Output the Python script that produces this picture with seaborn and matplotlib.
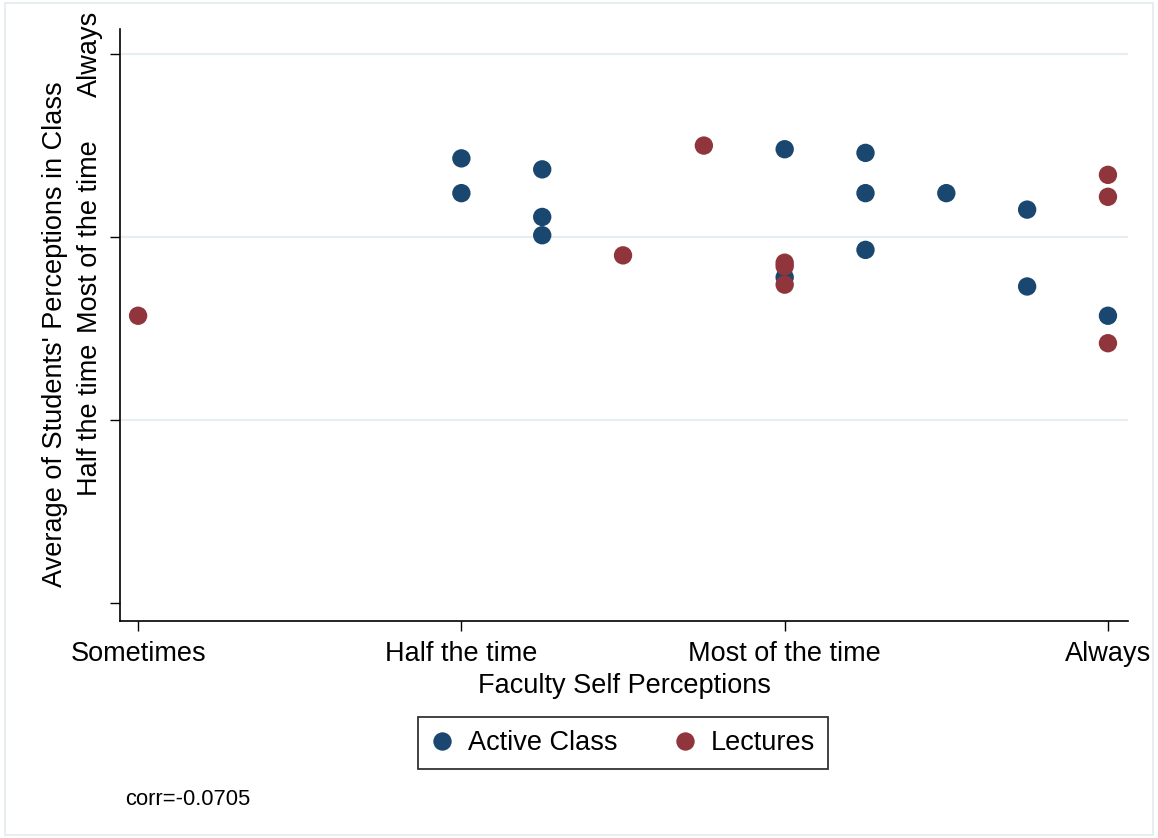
import matplotlib
matplotlib.use("Agg")
import matplotlib.pyplot as plt
from matplotlib.patches import Rectangle
import seaborn as sns
import pandas as pd

# Faculty self perception (x) vs. average student perception (y)
active_x = [3, 3, 3.25, 3.25, 3.25, 4, 4, 4.25, 4.25, 4.25, 4.5, 4.75, 4.75, 5]
active_y = [4.43, 4.24, 4.37, 4.11, 4.01, 4.48, 3.78, 4.46, 4.24, 3.93, 4.24, 4.15, 3.73, 3.57]
lecture_x = [2, 3.5, 3.75, 4, 4, 4, 5, 5, 5]
lecture_y = [3.57, 3.90, 4.50, 3.86, 3.84, 3.74, 4.34, 4.22, 3.42]

groups = ["Active Class", "Lectures"]
x_ticks = [2, 3, 4, 5]
x_labels = ["Sometimes", "Half the time", "Most of the time", "Always"]
y_ticks = [2, 3, 4, 5]
y_labels = ["", "Half the time", "Most of the time", "Always"]
corr_text = "corr=-0.0705"

df = pd.DataFrame({
    "faculty": active_x + lecture_x,
    "students": active_y + lecture_y,
    "group": [groups[0]] * len(active_x) + [groups[1]] * len(lecture_x),
})

sns.set_style("white")
plt.rcParams["font.family"] = ["Liberation Sans", "DejaVu Sans"]
plt.rcParams.update({"text.color": "black", "axes.labelcolor": "black",
                     "xtick.color": "black", "ytick.color": "black"})

W, H = 1158, 838
fig = plt.figure(figsize=(W / 100, H / 100), dpi=100)
fig.patch.set_facecolor("white")
fig.patches.append(Rectangle((0.004, 0.004), 0.992, 0.992, transform=fig.transFigure,
                             fill=False, edgecolor="#e4ebee", lw=1.2))

ax = fig.add_axes([120 / W, 1 - 621 / H, (1128 - 120) / W, (621 - 29) / H])

navy = "#1a476f"
maroon = "#90353b"
sns.scatterplot(data=df, x="faculty", y="students", hue="group", hue_order=groups,
                palette=[navy, maroon], s=175, linewidth=0, ax=ax, zorder=3,
                legend=True)

ax.set_xlim(1.944, 5.062)
ax.set_ylim(1.902, 5.137)

for yv in [3, 4, 5]:
    ax.axhline(yv, color="#e6eef1", lw=1.6, zorder=1)

ax.set_xticks(x_ticks)
ax.set_xticklabels(x_labels, fontsize=19.5)
ax.set_yticks(y_ticks)
ax.set_yticklabels(y_labels, fontsize=19.5, rotation=90, va="center")
ax.tick_params(axis="both", direction="out", length=7.5, width=1.0, color="black",
               labelcolor="black", left=True, bottom=True)
ax.tick_params(axis="x", pad=7)
ax.tick_params(axis="y", pad=5)

for side in ["top", "right"]:
    ax.spines[side].set_visible(False)
for side in ["left", "bottom"]:
    ax.spines[side].set_color("black")
    ax.spines[side].set_linewidth(1.2)

ax.set_xlabel("Faculty Self Perceptions", fontsize=19.5, labelpad=4.5, color="black")
ax.set_ylabel("Average of Students' Perceptions in Class", fontsize=19.5, va="center",
              color="black")
ax.yaxis.set_label_coords((55 - 120) / 1008, (621 - 334) / 592)

handles, labels = ax.get_legend_handles_labels()
ax.get_legend().remove()
leg = fig.legend(handles, labels, loc="center",
                 bbox_to_anchor=(623 / W, 1 - 743 / H), bbox_transform=fig.transFigure,
                 ncol=2, fontsize=19.5, frameon=True, fancybox=False,
                 handlelength=0.8, handletextpad=0.55, columnspacing=2.1,
                 borderpad=0.48, markerscale=1.0)
leg.get_frame().set_edgecolor("black")
leg.get_frame().set_linewidth(1.3)
for t in leg.get_texts():
    t.set_color("black")

fig.text(125 / W, 1 - 799 / H, corr_text, fontsize=15.8, ha="left", va="center",
         color="black")

fig.savefig("out.png", dpi=100, facecolor="white")
